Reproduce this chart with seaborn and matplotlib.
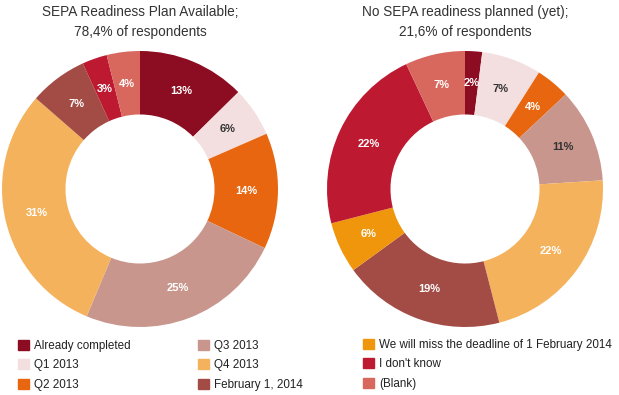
import matplotlib
matplotlib.use("Agg")
import matplotlib.pyplot as plt
import matplotlib.patches as mpatches
import numpy as np
import seaborn as sns

sns.set_theme(style="white")
plt.rcParams['font.family'] = ['Liberation Sans', 'DejaVu Sans']

# Data
categories = ["Already completed", "Q1 2013", "Q2 2013", "Q3 2013", "Q4 2013",
              "February 1, 2014", "We will miss the deadline of 1 February 2014",
              "I don't know", "(Blank)"]
left_cats = ["Already completed", "Q1 2013", "Q2 2013", "Q3 2013", "Q4 2013",
             "February 1, 2014", "I don't know", "(Blank)"]
left_vals = [13, 6, 14, 25, 31, 7, 3, 4]
right_cats = categories
right_vals = [2, 7, 4, 11, 22, 19, 6, 22, 7]
titles = ["SEPA Readiness Plan Available;\n78,4% of respondents",
          "No SEPA readiness planned (yet);\n21,6% of respondents"]

colors = {
    "Already completed": "#8c0d22",
    "Q1 2013": "#f3dfe0",
    "Q2 2013": "#e8660f",
    "Q3 2013": "#c8968c",
    "Q4 2013": "#f5b25c",
    "February 1, 2014": "#a34b45",
    "We will miss the deadline of 1 February 2014": "#f0960c",
    "I don't know": "#bd1a31",
    "(Blank)": "#d8685e",
}

W, H = 619, 395
fig = plt.figure(figsize=(W / 100, H / 100), dpi=100)
fig.patch.set_facecolor("white")

R = 138
def add_pie(cx, cy, cats, vals, title, dark_q3):
    ax = fig.add_axes([(cx - R) / W, (H - cy - R) / H, 2 * R / W, 2 * R / H])
    ax.pie(vals, colors=[colors[c] for c in cats], startangle=90,
           counterclock=False,
           wedgeprops=dict(width=0.46, edgecolor="none"),
           radius=1.0)
    tot = sum(vals)
    ang = 90.0
    for c, v in zip(cats, vals):
        theta = ang - 360 * v / tot / 2
        ang -= 360 * v / tot
        r = 0.77
        x, y = r * np.cos(np.radians(theta)), r * np.sin(np.radians(theta))
        col = "white"
        if c == "Q1 2013" or (c == "Q3 2013" and dark_q3):
            col = "#333333"
        ax.text(x, y, f"{v}%", ha="center", va="center", color=col,
                fontsize=8, fontweight="bold")
    ax.set_xlim(-1, 1)
    ax.set_ylim(-1, 1)
    ax.set_aspect("equal")
    ax.axis("off")
    fig.text(cx / W, 1 - 22 / H, title, ha="center", va="center",
             fontsize=9.8, color="#333333", linespacing=1.55)

add_pie(140, 189, left_cats, left_vals, titles[0], False)
add_pie(465, 189, right_cats, right_vals, titles[1], True)

def add_legend(labels, x, y):
    handles = [mpatches.Patch(color=colors[l], label=l) for l in labels]
    fig.legend(handles=handles, loc="upper left", bbox_to_anchor=(x / W, 1 - y / H),
               frameon=False, fontsize=8.4, handlelength=0.95, handleheight=0.95,
               handletextpad=0.45, labelspacing=0.62, borderpad=0, borderaxespad=0,
               labelcolor="#222222")

add_legend(["Already completed", "Q1 2013", "Q2 2013"], 18, 340)
add_legend(["Q3 2013", "Q4 2013", "February 1, 2014"], 198, 340)
add_legend(["We will miss the deadline of 1 February 2014", "I don't know", "(Blank)"], 363, 339)

fig.savefig("out.png", dpi=100, facecolor="white")
